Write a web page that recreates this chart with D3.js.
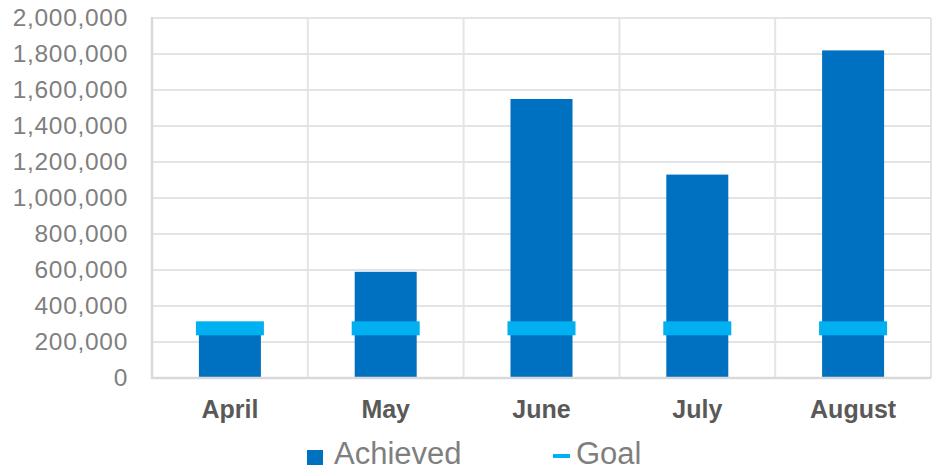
<!DOCTYPE html>
<html>
<head>
<meta charset="utf-8">
<script src="https://cdn.jsdelivr.net/npm/d3@7"></script>
<style>
  body { margin: 0; background: #fff; }
  svg { display: block; font-family: "Liberation Sans", Arial, sans-serif; }
</style>
</head>
<body>
<svg id="chart"></svg>
<script>
const months = ['April', 'May', 'June', 'July', 'August'];
const achieved = [300000, 590000, 1550000, 1130000, 1820000];
const goal = [276000, 276000, 276000, 276000, 276000];
const yTicks = [0, 200000, 400000, 600000, 800000, 1000000, 1200000, 1400000, 1600000, 1800000, 2000000];

const width = 933, height = 472;
const plotLeft = 152, plotRight = 931, plotTop = 18, plotBottom = 378;

const svg = d3.select('#chart').attr('width', width).attr('height', height);

const x = d3.scaleBand().domain(months).range([plotLeft, plotRight]).paddingInner(0).paddingOuter(0);
const y = d3.scaleLinear().domain([0, 2000000]).range([plotBottom, plotTop]);
const fmt = d3.format(',');

// horizontal gridlines
svg.append('g')
  .selectAll('line')
  .data(yTicks.slice(1))
  .enter()
  .append('line')
  .attr('x1', plotLeft).attr('x2', plotRight)
  .attr('y1', d => y(d)).attr('y2', d => y(d))
  .attr('stroke', '#e4e4e4').attr('stroke-width', 2);

// vertical gridlines at band edges
svg.append('g')
  .selectAll('line')
  .data(months)
  .enter()
  .append('line')
  .attr('x1', d => x(d) + x.bandwidth()).attr('x2', d => x(d) + x.bandwidth())
  .attr('y1', plotTop).attr('y2', plotBottom)
  .attr('stroke', '#e4e4e4').attr('stroke-width', 2);

// y axis labels
const yAxis = d3.axisLeft(y).tickValues(yTicks).tickFormat(fmt).tickSize(0).tickPadding(24);
const gy = svg.append('g').attr('transform', 'translate(' + plotLeft + ',0)').call(yAxis);
gy.select('.domain').remove();
gy.selectAll('text')
  .attr('font-size', 24.5)
  .attr('letter-spacing', 0.7)
  .attr('fill', '#7f7f7f')
  .attr('font-family', '"Liberation Sans", Arial, sans-serif');

// bars
const barW = 62;
svg.append('g')
  .selectAll('rect')
  .data(months)
  .enter()
  .append('rect')
  .attr('x', d => x(d) + x.bandwidth() / 2 - barW / 2)
  .attr('width', barW)
  .attr('y', (d, i) => y(achieved[i]))
  .attr('height', (d, i) => plotBottom - y(achieved[i]))
  .attr('fill', '#0070c0');

// goal markers
const goalW = 68, goalH = 14;
svg.append('g')
  .selectAll('rect')
  .data(months)
  .enter()
  .append('rect')
  .attr('x', d => x(d) + x.bandwidth() / 2 - goalW / 2)
  .attr('width', goalW)
  .attr('y', (d, i) => y(goal[i]) - goalH / 2)
  .attr('height', goalH)
  .attr('fill', '#00b0f0');

// axis frame
svg.append('line')
  .attr('x1', plotLeft).attr('x2', plotLeft).attr('y1', plotTop - 1).attr('y2', plotBottom + 1)
  .attr('stroke', '#d9d9d9').attr('stroke-width', 2.5);
svg.append('line')
  .attr('x1', plotLeft - 1).attr('x2', plotRight).attr('y1', plotBottom).attr('y2', plotBottom)
  .attr('stroke', '#d9d9d9').attr('stroke-width', 2.5);

// category labels
const xAxis = d3.axisBottom(x).tickSize(0).tickPadding(0);
const gx = svg.append('g').attr('transform', 'translate(0,' + plotBottom + ')').call(xAxis);
gx.select('.domain').remove();
gx.selectAll('text')
  .attr('y', 40).attr('dy', null)
  .attr('font-size', 25).attr('font-weight', 'bold').attr('fill', '#595959')
  .attr('font-family', '"Liberation Sans", Arial, sans-serif');

// legend
const legend = svg.append('g');
legend.append('rect').attr('x', 307).attr('y', 450).attr('width', 16).attr('height', 15).attr('fill', '#0070c0');
legend.append('text').attr('x', 334).attr('y', 464).attr('font-size', 31).attr('fill', '#7f7f7f').text('Achieved');
legend.append('rect').attr('x', 553).attr('y', 454).attr('width', 17).attr('height', 4).attr('fill', '#00b0f0');
legend.append('text').attr('x', 576).attr('y', 464).attr('font-size', 31).attr('fill', '#7f7f7f').text('Goal');
</script>
</body>
</html>
